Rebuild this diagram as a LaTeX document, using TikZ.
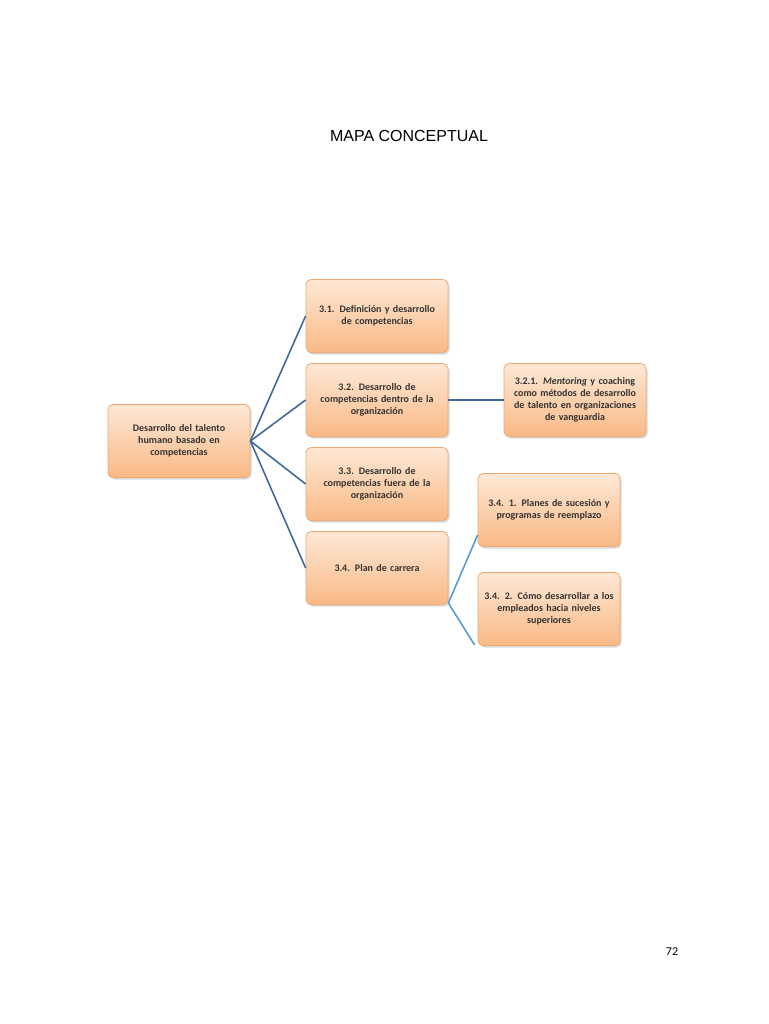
\documentclass[tikz,border=0pt]{standalone}
\usepackage{fontspec}
\setmainfont{Carlito}
\newfontfamily\titlefont{Liberation Sans}
\usetikzlibrary{shadows}
\definecolor{bordo}{HTML}{F2A86E}
\definecolor{ltop}{HTML}{FEE8D6}
\definecolor{lbot}{HTML}{F9B986}
\definecolor{dblue}{HTML}{40699C}
\definecolor{lblue}{HTML}{5B9BD5}
\tikzset{
  cbox/.style={draw=bordo, line width=0.8pt, rounded corners=5pt, top color=ltop, bottom color=lbot,
    minimum width=142pt, minimum height=73pt, align=center, text width=130pt,
    font=\fontsize{10}{12}\selectfont\bfseries, text=black!80,
    drop shadow={shadow xshift=1.5pt, shadow yshift=-2pt, opacity=0.3}},
  dcon/.style={draw=dblue, line width=1.6pt},
  lcon/.style={draw=lblue, line width=1.6pt}
}
\begin{document}
\begin{tikzpicture}[x=1pt,y=-1pt]
\useasboundingbox (0,0) rectangle (768,1024);
\node[font=\titlefont\fontsize{16}{18}\selectfont] (title) at (409,136) {MAPA CONCEPTUAL};
\node[cbox] (root) at (179,441) {Desarrollo del talento\\humano basado en\\competencias};
\node[cbox] (a) at (377,316) {3.1. Definición y desarrollo\\de competencias};
\node[cbox] (b) at (377,400) {3.2. Desarrollo de\\competencias dentro de la\\organización};
\node[cbox] (c) at (377,484) {3.3. Desarrollo de\\competencias fuera de la\\organización};
\node[cbox] (d) at (377,568) {3.4. Plan de carrera};
\node[cbox] (b1) at (575,400) {3.2.1. \textit{Mentoring} y coaching\\como métodos de desarrollo\\de talento en organizaciones\\de vanguardia};
\node[cbox] (d1) at (549,510) {3.4. 1. Planes de sucesión y\\programas de reemplazo};
\node[cbox] (d2) at (549,609) {3.4. 2. Cómo desarrollar a los\\empleados hacia niveles\\superiores};
\coordinate (r) at (root.east);
\draw[dcon] (r) -- (a.west);
\draw[dcon] (r) -- (b.west);
\draw[dcon] (r) -- (c.west);
\draw[dcon] (r) -- (d.west);
\draw[dcon] (b.east) -- (b1.west);
\coordinate (dp) at ([yshift=-35pt]d.east);
\draw[lcon] (dp) -- ([yshift=-25pt]d1.west);
\draw[lcon] (dp) -- ([yshift=-36pt,xshift=-3pt]d2.west);
\node[font=\fontsize{12}{14}\selectfont] (pg) at (672,952) {72};
\end{tikzpicture}
\end{document}
